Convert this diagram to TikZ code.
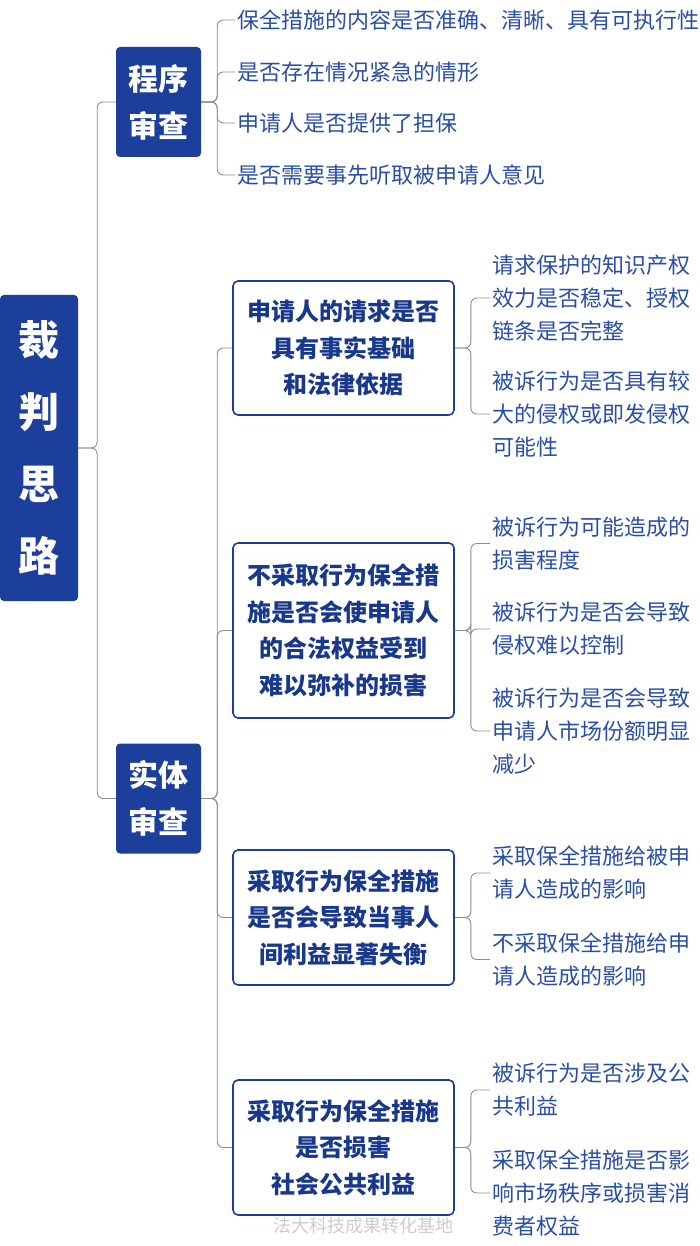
\documentclass[tikz,border=0pt]{standalone}
\usepackage{fontspec}
\setmainfont{Noto Sans CJK SC}
\usetikzlibrary{positioning}

\definecolor{rootblue}{RGB}{29,63,156}
\definecolor{boxtext}{RGB}{24,56,140}
\definecolor{leaftext}{RGB}{40,78,168}
\definecolor{linkgray}{RGB}{140,140,140}

\begin{document}
\begin{tikzpicture}[x=1pt,y=-1pt,
    rootbox/.style={fill=rootblue,text=white,rounded corners=4pt,align=center,
      minimum width=78pt,minimum height=306pt,font=\fontsize{41}{72}\selectfont\bfseries},
    kindbox/.style={fill=rootblue,text=white,rounded corners=4pt,align=center,
      minimum width=85pt,minimum height=110pt,font=\fontsize{30}{47}\selectfont\bfseries},
    askbox/.style={draw=rootblue,line width=1.6pt,text=boxtext,rounded corners=5pt,align=center,
      minimum width=221pt,font=\fontsize{24}{36.5}\selectfont\bfseries},
    leaf/.style={anchor=west,text=leaftext,align=left,inner sep=2pt,
      font=\fontsize{22}{33}\selectfont},
    link/.style={draw=linkgray,line width=0.9pt,rounded corners=6pt}]
    \useasboundingbox (0,0) rectangle (700,1246);

    \node[rootbox] (root) at (39,448) {裁\\判\\思\\路};

    \node[kindbox] (proc) at (158.5,102) {程序\\审查};
    \node[kindbox] (subst) at (158.5,798.5) {实体\\审查};

    % procedure checks
    \node[leaf] (proc1) at (235,20) {保全措施的内容是否准确、清晰、具有可执行性};
    \node[leaf] (proc2) at (235,72) {是否存在情况紧急的情形};
    \node[leaf] (proc3) at (235,123) {申请人是否提供了担保};
    \node[leaf] (proc4) at (235,175) {是否需要事先听取被申请人意见};

    % substance checks
    \node[askbox,minimum height=134pt] (ask1) at (343.5,348) {申请人的请求是否\\具有事实基础\\和法律依据};
    \node[askbox,minimum height=175pt] (ask2) at (343.5,630.5) {不采取行为保全措\\施是否会使申请人\\的合法权益受到\\难以弥补的损害};
    \node[askbox,minimum height=135pt] (ask3) at (343.5,917.5) {采取行为保全措施\\是否会导致当事人\\间利益显著失衡};
    \node[askbox,minimum height=135pt] (ask4) at (343.5,1147.5) {采取行为保全措施\\是否损害\\社会公共利益};

    \node[leaf] (ask1a) at (490,298) {请求保护的知识产权\\效力是否稳定、授权\\链条是否完整};
    \node[leaf] (ask1b) at (490,414) {被诉行为是否具有较\\大的侵权或即发侵权\\可能性};

    \node[leaf] (ask2a) at (490,543.5) {被诉行为可能造成的\\损害程度};
    \node[leaf] (ask2b) at (490,629) {被诉行为是否会导致\\侵权难以控制};
    \node[leaf] (ask2c) at (490,731) {被诉行为是否会导致\\申请人市场份额明显\\减少};

    \node[leaf] (ask3a) at (490,873) {采取保全措施给被申\\请人造成的影响};
    \node[leaf] (ask3b) at (490,959.5) {不采取保全措施给申\\请人造成的影响};

    \node[leaf] (ask4a) at (490,1090) {被诉行为是否涉及公\\共利益};
    \node[leaf] (ask4b) at (490,1193) {采取保全措施是否影\\响市场秩序或损害消\\费者权益};

    \foreach \from/\to/\dx in {root/proc/19,root/subst/19,
      proc/proc1/16,proc/proc2/16,proc/proc3/16,proc/proc4/16,
      subst/ask1/16,subst/ask2/16,subst/ask3/16,subst/ask4/16,
      ask1/ask1a/16,ask1/ask1b/16,ask2/ask2a/16,ask2/ask2b/16,ask2/ask2c/16,
      ask3/ask3a/16,ask3/ask3b/16,ask4/ask4a/16,ask4/ask4b/16}
    \draw[link] (\from.east) -- ++(\dx,0) |- (\to.west);

    % watermark
    \node[text=black!20,font=\fontsize{18}{18}\selectfont] (mark) at (363,1226) {法大科技成果转化基地};
\end{tikzpicture}
\end{document}
